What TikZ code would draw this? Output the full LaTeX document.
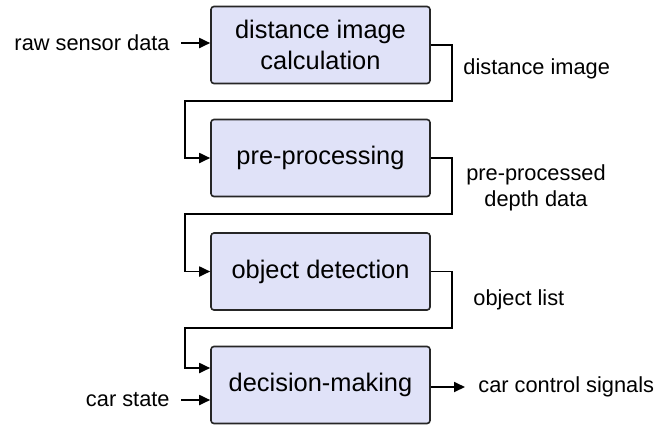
\documentclass[tikz,border=0pt]{standalone}
\usepackage{fontspec}
\setmainfont{Liberation Sans}
\usetikzlibrary{arrows.meta}
\definecolor{stagefill}{RGB}{224,226,248}
\begin{document}
\begin{tikzpicture}[x=0.5pt, y=-0.5pt, >={Triangle[length=5.5pt,width=5pt]},
  stage/.style={draw=black!85, line width=0.8pt, fill=stagefill, rounded corners=1.5pt,
    minimum width=109.5pt, minimum height=38.5pt, align=center, inner sep=0pt,
    font=\fontsize{12.7}{15.2}\selectfont},
  datalabel/.style={font=\fontsize{10.9}{12.8}\selectfont, align=center, inner sep=0pt},
  flow/.style={->, line width=0.9pt}]
  \useasboundingbox (0,0) rectangle (660,425);
  % Verarbeitungsstufen
  \node[stage] (dist) at (320.5,45) {distance image\\calculation};
  \node[stage] (pre)  at (320.5,158) {pre-processing};
  \node[stage] (det)  at (320.5,271.5) {object detection};
  \node[stage] (dec)  at (320.5,385) {decision-making};
  % Ein- und Ausgaenge
  \node[datalabel, anchor=east] (raw) at (170,43) {raw sensor data};
  \node[datalabel, anchor=east] (car) at (170,400) {car state};
  \node[datalabel, anchor=west] (ctrl) at (478,387) {car control signals};
  \node[datalabel, anchor=west] (dimg) at (463,69) {distance image};
  \node[datalabel] (pdata) at (536,188) {pre-processed\\depth data};
  \node[datalabel, anchor=west] (olist) at (473,300) {object list};
  % Knickpunkte der Rueckfuehrungen
  \coordinate (r1) at (452,101);
  \coordinate (l1) at (185,101);
  \coordinate (r2) at (452,214);
  \coordinate (l2) at (185,214);
  \coordinate (r3) at (452,328);
  \coordinate (l3) at (185,328);
  \draw[flow] (raw.east) ++(11,0) coordinate (rawin) -- (rawin -| dist.west);
  \draw[flow] (dist.east) -| (r1) -- (l1) |- (pre.west);
  \draw[flow] (pre.east) -| (r2) -- (l2) |- (det.west);
  \draw[flow] (det.east) -| (r3) -- (l3) |- ([yshift=8.5pt]dec.west);
  \draw[flow] (car.east) ++(11,0) coordinate (carin) -- (carin -| dec.west);
  \draw[flow] (dec.east |- ctrl.west) -- ([xshift=-6.5pt]ctrl.west);
\end{tikzpicture}
\end{document}
